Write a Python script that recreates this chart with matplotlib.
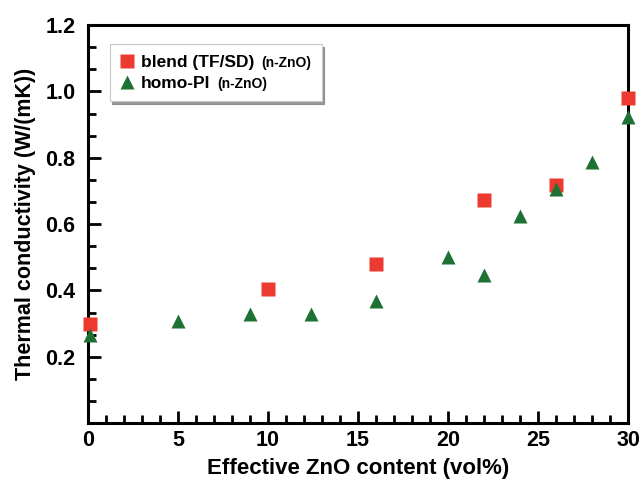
import numpy as np
import matplotlib
matplotlib.use("Agg")
import matplotlib.pyplot as plt
from matplotlib.ticker import MultipleLocator, AutoMinorLocator
from matplotlib.offsetbox import TextArea

plt.rcParams['font.family'] = ['Liberation Sans', 'DejaVu Sans']
plt.rcParams['font.weight'] = 'bold'

# blend (TF/SD) (n-ZnO)
blend_x = [0.1, 10, 16, 22, 26, 30]
blend_y = [0.30, 0.404, 0.48, 0.672, 0.717, 0.98]

# homo-PI (n-ZnO)
homo_x = [0.1, 5, 9, 12.4, 16, 20, 22, 24, 26, 28, 30]
homo_y = [0.265, 0.307, 0.33, 0.33, 0.367, 0.50, 0.445, 0.624, 0.707, 0.787, 0.922]

red = '#ec3a31'
green = '#1d7233'

fig = plt.figure(figsize=(6.41, 4.84), dpi=100)
ax = fig.add_axes([0.1373, 0.126, 0.8424, 0.822])

ax.plot(blend_x, blend_y, 's', color=red, ms=9.5, mec='none', label='blend (TF/SD)', clip_on=False, zorder=3)
ax.plot(homo_x, homo_y, '^', color=green, ms=10, mec='none', label='homo-PI', clip_on=False, zorder=3)

ax.set_xlim(0, 30)
ax.set_ylim(0, 1.2)
ax.xaxis.set_major_locator(MultipleLocator(5))
ax.xaxis.set_minor_locator(AutoMinorLocator(5))
ax.yaxis.set_major_locator(MultipleLocator(0.2))
ax.yaxis.set_minor_locator(AutoMinorLocator(3))
ax.set_yticks([0.2, 0.4, 0.6, 0.8, 1.0, 1.2])
ax.set_yticklabels(['0.2', '0.4', '0.6', '0.8', '1.0', '1.2'])
ax.set_xticks([0, 5, 10, 15, 20, 25, 30])

for s in ax.spines.values():
    s.set_linewidth(2.2)
ax.tick_params(which='both', direction='in', width=2, labelsize=15.5)
ax.tick_params(which='major', length=9)
ax.tick_params(which='minor', length=6)
ax.tick_params(axis='x', which='both', top=False, pad=5)
ax.tick_params(axis='y', which='both', right=False, pad=9)

ax.set_xlabel('Effective ZnO content (vol%)', fontsize=16, fontweight='bold', labelpad=5)
ax.set_ylabel('Thermal conductivity (W/(mK))', fontsize=15.5, fontweight='bold', labelpad=7)

leg = ax.legend(loc='upper left', bbox_to_anchor=(0.04, 0.952), fontsize=12.5,
                frameon=True, fancybox=False, shadow={'color': '0.5', 'alpha': 0.8},
                edgecolor='#c8c8c8', handlelength=0.8, handletextpad=0.4,
                borderpad=0.6, labelspacing=0.35, borderaxespad=0)
leg.get_frame().set_linewidth(0.8)

# smaller "(n-ZnO)" after each legend label
for col in leg._legend_handle_box.get_children():
    for item in col.get_children():
        extra = TextArea('(n-ZnO)', textprops=dict(fontsize=10, fontweight='bold'))
        item.get_children().append(extra)
leg._legend_box.set_figure(fig)

fig.savefig('out.png', dpi=100)
